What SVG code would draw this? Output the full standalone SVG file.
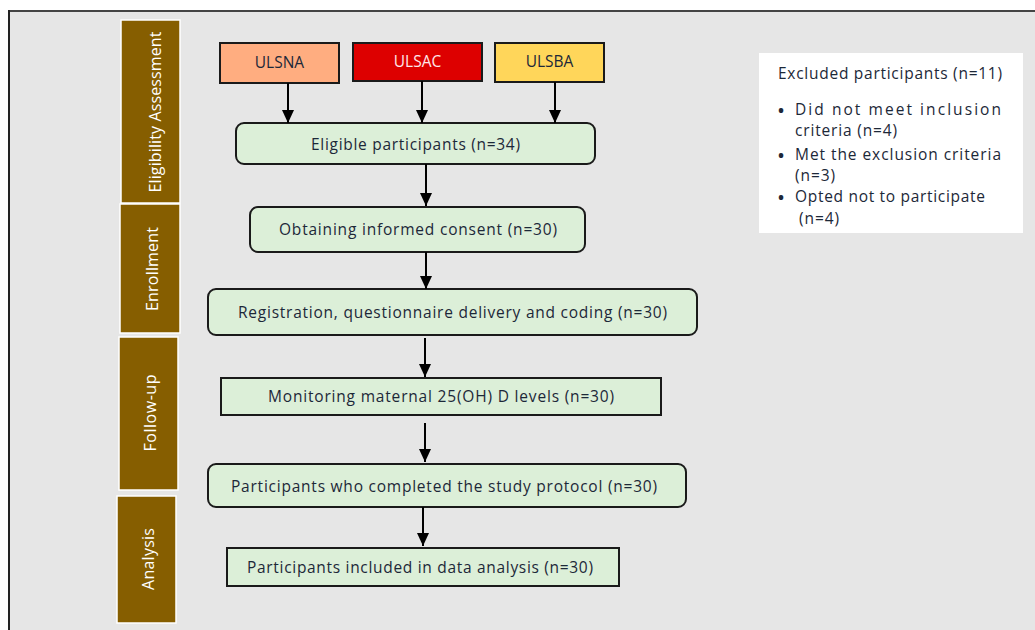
<svg xmlns="http://www.w3.org/2000/svg" width="1035" height="630" viewBox="0 0 1035 630">
<defs>
<marker id="ah" markerUnits="userSpaceOnUse" markerWidth="14" markerHeight="12" refX="13" refY="6" orient="auto">
<path d="M0,0 L13,6 L0,12 Z" fill="#000"/>
</marker>
<style>
.t{font-family:"Open Sans","Noto Sans","Liberation Sans",sans-serif;font-size:15.5px;font-weight:500;fill:#1c2838}
.st{font-family:"Open Sans","Noto Sans","Liberation Sans",sans-serif;font-size:16px;font-weight:500;fill:#ffffff;text-anchor:middle}
.b{font-family:"Open Sans","Noto Sans","Liberation Sans",sans-serif;font-size:16px;font-weight:700;fill:#1c2838}
.bar{fill:#865e00;stroke:#ffffff;stroke-width:1.5}
.box{fill:#dcefd8;stroke:#1a1a1a;stroke-width:2}
.src{stroke:#1a1a1a;stroke-width:2}
.conn line{stroke:#000;stroke-width:2;marker-end:url(#ah)}
</style>
</defs>
<rect x="0" y="0" width="1035" height="630" fill="#ffffff"/>
<rect x="9" y="11" width="1030" height="625" fill="#e6e6e6"/>
<line x1="8" y1="11" x2="1035" y2="11" stroke="#444" stroke-width="2"/>
<line x1="9" y1="10" x2="9" y2="630" stroke="#222" stroke-width="2"/>

<g id="stage-eligibility"><rect class="bar" x="121" y="20" width="59" height="183"/><text class="st" transform="translate(161,112) rotate(-90)" textLength="161">Eligibility Assessment</text></g>
<g id="stage-enrollment"><rect class="bar" x="120" y="204" width="60" height="129"/><text class="st" transform="translate(158,269) rotate(-90)" textLength="84">Enrollment</text></g>
<g id="stage-followup"><rect class="bar" x="119" y="337" width="59" height="153"/><text class="st" transform="translate(156,413) rotate(-90)" textLength="77">Follow-up</text></g>
<g id="stage-analysis"><rect class="bar" x="117" y="496" width="59" height="127"/><text class="st" transform="translate(154,559) rotate(-90)" textLength="62">Analysis</text></g>

<g id="ulsna"><rect class="src" x="220" y="43" width="119" height="40" fill="#ffad80"/><text class="t" x="279.5" y="68" text-anchor="middle">ULSNA</text></g>
<g id="ulsac"><rect class="src" x="353" y="43" width="129" height="38" fill="#dd0000"/><text class="t" x="417.5" y="67" text-anchor="middle" style="fill:#ffe6ea">ULSAC</text></g>
<g id="ulsba"><rect class="src" x="495" y="43" width="109" height="39" fill="#ffd65a"/><text class="t" x="549.5" y="67" text-anchor="middle">ULSBA</text></g>

<g id="eligible"><rect class="box" x="236" y="123" width="359" height="41" rx="8"/><text class="t" x="311" y="150" textLength="209">Eligible participants (n=34)</text></g>
<g id="consent"><rect class="box" x="250" y="207" width="335" height="45" rx="8"/><text class="t" x="279" y="235" textLength="278">Obtaining informed consent (n=30)</text></g>
<g id="registration"><rect class="box" x="208" y="289" width="489" height="46" rx="8"/><text class="t" x="238" y="318" textLength="429">Registration, questionnaire delivery and coding (n=30)</text></g>
<g id="monitoring"><rect class="box" x="221" y="378" width="440" height="37"/><text class="t" x="268" y="402" textLength="346">Monitoring maternal 25(OH) D levels (n=30)</text></g>
<g id="completed"><rect class="box" x="208" y="464" width="478" height="43" rx="8"/><text class="t" x="231" y="492" textLength="426">Participants who completed the study protocol (n=30)</text></g>
<g id="included"><rect class="box" x="227" y="548" width="392" height="38"/><text class="t" x="247" y="573" textLength="346">Participants included in data analysis (n=30)</text></g>

<g id="excluded">
<rect x="759" y="53" width="264" height="180" fill="#ffffff"/>
<text class="t" x="778" y="79" textLength="224">Excluded participants (n=11)</text>
<text class="b" x="778" y="116">•</text><text class="t" x="795" y="115" textLength="206" lengthAdjust="spacing">Did not meet inclusion</text>
<text class="t" x="795" y="136" textLength="102">criteria (n=4)</text>
<text class="b" x="778" y="161">•</text><text class="t" x="795" y="160" textLength="206">Met the exclusion criteria</text>
<text class="t" x="795" y="181" textLength="40">(n=3)</text>
<text class="b" x="778" y="203">•</text><text class="t" x="795" y="202" textLength="190">Opted not to participate</text>
<text class="t" x="799" y="224" textLength="40">(n=4)</text>
</g>

<g id="connectors" class="conn">
<line x1="288" y1="83" x2="288" y2="123"/>
<line x1="422" y1="81" x2="422" y2="123"/>
<line x1="555" y1="82" x2="555" y2="123"/>
<line x1="426" y1="164" x2="426" y2="206"/>
<line x1="426" y1="252" x2="426" y2="289"/>
<line x1="425" y1="338" x2="425" y2="377"/>
<line x1="425" y1="423" x2="425" y2="462"/>
<line x1="423" y1="507" x2="423" y2="546"/>
</g>
</svg>
